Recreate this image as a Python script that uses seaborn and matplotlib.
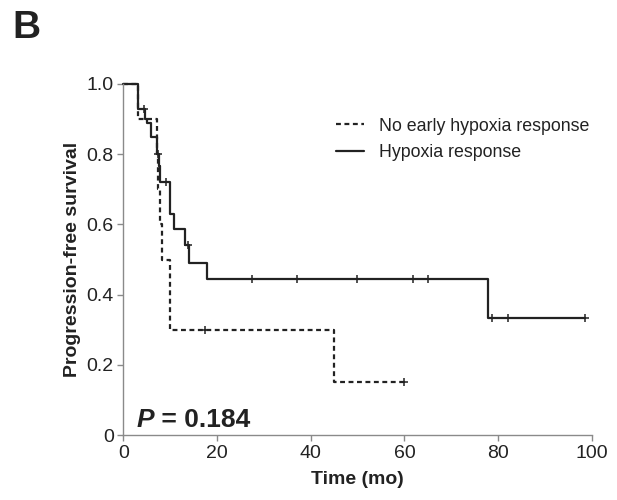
import numpy as np
import pandas as pd
import seaborn as sns
import matplotlib.pyplot as plt

# %% data (Kaplan-Meier steps)
# Hypoxia response (solid)
hyp_t = [0, 3.2, 4.6, 5.1, 5.9, 7.1, 7.5, 7.9, 9.9, 10.8, 13.1, 14.0, 17.8, 77.9, 98.5]
hyp_s = [1.0, 0.93, 0.90, 0.89, 0.85, 0.80, 0.765, 0.72, 0.63, 0.587, 0.54, 0.49, 0.444, 0.333, 0.333]
hyp_cens_t = [4.4, 7.4, 9.0, 13.8, 27.5, 37.1, 49.9, 61.8, 65.0, 78.8, 82.1, 98.5]
hyp_cens_s = [0.93, 0.80, 0.72, 0.54, 0.444, 0.444, 0.444, 0.444, 0.444, 0.333, 0.333, 0.333]

# No early hypoxia response (dashed)
noh_t = [0, 3.1, 7.1, 7.4, 7.8, 8.2, 9.9, 45.0, 60.0]
noh_s = [1.0, 0.9, 0.8, 0.7, 0.6, 0.5, 0.3, 0.15, 0.15]
noh_cens_t = [17.5, 60.0]
noh_cens_s = [0.3, 0.15]

labels = ['No early hypoxia response', 'Hypoxia response']
xticks = [0, 20, 40, 60, 80, 100]
yticks = [0, 0.2, 0.4, 0.6, 0.8, 1.0]
ytick_labels = ['0', '0.2', '0.4', '0.6', '0.8', '1.0']
p_text = '= 0.184'

# %% style
sns.set_style('ticks')
plt.rcParams['font.family'] = ['Liberation Sans', 'DejaVu Sans']
ink = '#222222'
axcol = '#8a8a8a'

fig = plt.figure(figsize=(6.17, 5), dpi=100)
ax = fig.add_axes([0.200, 0.130, 0.759, 0.702])

# %% curves
sns.lineplot(x=noh_t, y=noh_s, drawstyle='steps-post', color=ink, lw=1.6,
             linestyle=(0, (2.2, 1.6)), label=labels[0], ax=ax, clip_on=False)
sns.lineplot(x=hyp_t, y=hyp_s, drawstyle='steps-post', color=ink, lw=1.6,
             label=labels[1], ax=ax, clip_on=False)
sns.scatterplot(x=noh_cens_t, y=noh_cens_s, marker='+', s=26, color=ink,
                linewidth=1.1, ax=ax, zorder=3)
sns.scatterplot(x=hyp_cens_t, y=hyp_cens_s, marker='+', s=26, color=ink,
                linewidth=1.1, ax=ax, zorder=3)

# %% axes
ax.set_xlim(0, 100)
ax.set_ylim(0, 1.0)
ax.set_xticks(xticks)
ax.set_yticks(yticks)
ax.set_yticklabels(ytick_labels)
sns.despine(ax=ax)
for sp in ['left', 'bottom']:
    ax.spines[sp].set_color(axcol)
    ax.spines[sp].set_linewidth(1.0)
ax.tick_params(colors=axcol, labelcolor=ink, labelsize=14, length=4, width=1.0, pad=3)
ax.set_xlabel('Time (mo)', fontsize=14, fontweight='bold', color=ink, labelpad=7)
ax.set_ylabel('Progression-free survival', fontsize=14, fontweight='bold', color=ink, labelpad=4)

leg = ax.legend(loc='upper left', bbox_to_anchor=(0.42, 0.95), frameon=False,
                fontsize=12.8, handlelength=1.55, handletextpad=0.85, labelspacing=0.55,
                labelcolor=ink)

# P value
t1 = ax.text(2.8, 0.022, 'P', fontsize=19, fontweight='bold', style='italic', color=ink)
ax.annotate(' ' + p_text, xy=(1, 0), xycoords=t1, va='bottom', fontsize=19,
            fontweight='bold', color=ink)

# panel label
fig.text(0.02, 0.925, 'B', fontsize=28, fontweight='bold', color=ink)

fig.savefig('out.png', dpi=100)
